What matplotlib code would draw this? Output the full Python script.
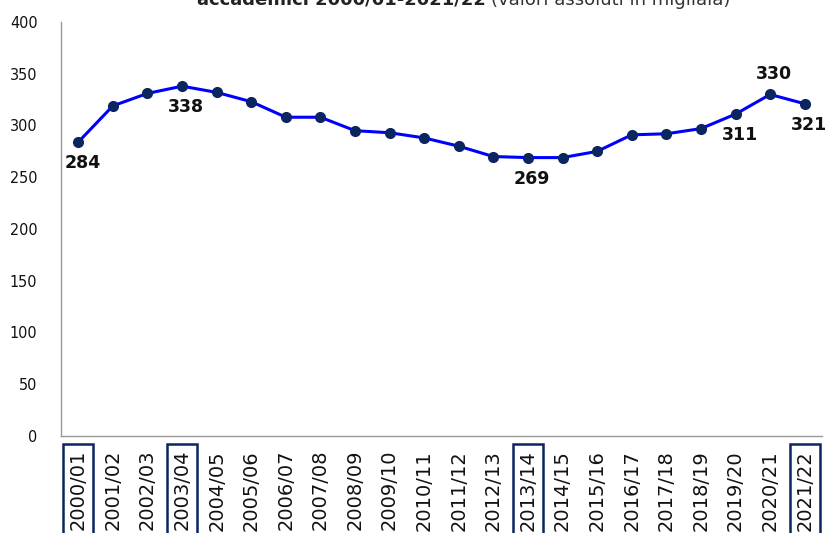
import matplotlib.pyplot as plt

years = ["2000/01", "2001/02", "2002/03", "2003/04", "2004/05", "2005/06",
         "2006/07", "2007/08", "2008/09", "2009/10", "2010/11", "2011/12",
         "2012/13", "2013/14", "2014/15", "2015/16", "2016/17", "2017/18",
         "2018/19", "2019/20", "2020/21", "2021/22"]
values = [284, 319, 331, 338, 332, 323, 308, 308, 295, 293, 288, 280,
          270, 269, 269, 275, 291, 292, 297, 311, 330, 321]
# points with a value label, and where the label sits
labelled = {0: "below", 3: "below", 13: "below", 19: "below", 20: "above", 21: "below"}
boxed = ["2000/01", "2003/04", "2013/14", "2021/22"]
yticks = [0, 50, 100, 150, 200, 250, 300, 350, 400]

W, H = 829, 533
fig = plt.figure(figsize=(W / 100, H / 100), dpi=100)
ax = fig.add_axes([61 / W, 1 - 436 / H, (822 - 61) / W, (436 - 22) / H])

x = list(range(len(years)))
ax.plot(x, values, color="#0000ff", lw=2.2, marker="o", markersize=7,
        markerfacecolor="#0b2560", markeredgecolor="#0b2560", zorder=3)

for i, pos in labelled.items():
    dy = 20 if pos == "above" else -21
    ax.annotate(str(values[i]), (x[i], values[i]), xytext=(4, dy),
                textcoords="offset pixels",
                ha="center", va="center", fontsize=12.5, fontweight="bold",
                color="#111111")

ax.set_xlim(-0.5, len(years) - 0.5)
ax.set_ylim(0, 400)
ax.set_yticks(yticks)
ax.set_yticklabels([str(v) for v in yticks], fontsize=11.5,
                   fontstretch="condensed", color="#111111")
ax.set_xticks(x)
ax.set_xticklabels(years, rotation=90, fontsize=14, color="#111111")
ax.tick_params(axis="both", length=0)
ax.tick_params(axis="y", pad=17)
ax.tick_params(axis="x", pad=10)

for lab in ax.get_xticklabels():
    if lab.get_text() in boxed:
        lab.set_bbox(dict(boxstyle="square,pad=0.28", fc="none",
                          ec="#0b2560", lw=1.8))

for side in ["top", "right"]:
    ax.spines[side].set_visible(False)
for side in ["left", "bottom"]:
    ax.spines[side].set_color("#999999")
    ax.spines[side].set_linewidth(1)

# title, only the lower part is visible in the frame
fig.text(486 / W, 1 - 5 / H, "accademici 2000/01-2021/22", ha="right",
         va="baseline", fontsize=13, fontweight="bold", color="#222222")
fig.text(491 / W, 1 - 5 / H, "(valori assoluti in migliaia)", ha="left",
         va="baseline", fontsize=13, color="#333333")

fig.savefig("out.png", dpi=100)
